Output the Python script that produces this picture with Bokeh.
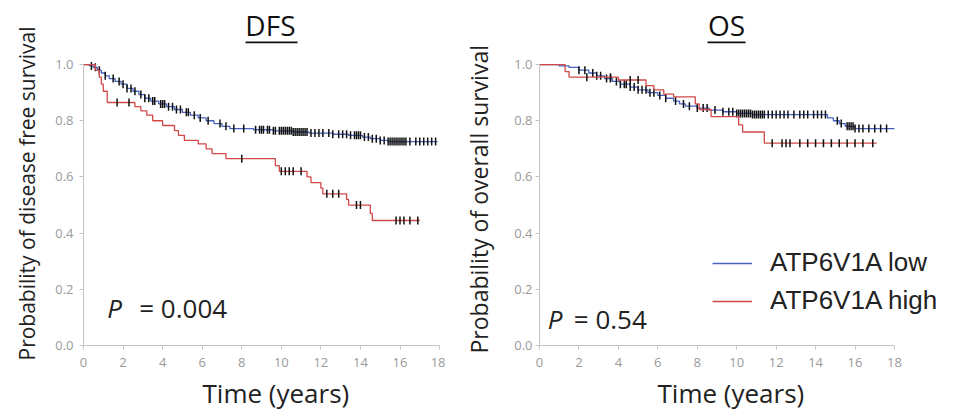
import numpy as np
from bokeh.plotting import figure
from bokeh.models import (Range1d, Legend, LegendItem, Label, FixedTicker, PrintfTickFormatter,
                          Title, BoxAnnotation)
from bokeh.layouts import row
from bokeh.embed import file_html
from bokeh.resources import INLINE

# ---------------- data ----------------
x_ticks = [0, 2, 4, 6, 8, 10, 12, 14, 16, 18]
y_ticks = [0.0, 0.2, 0.4, 0.6, 0.8, 1.0]

titles = ["DFS", "OS"]
y_labels = ["Probability of disease free survival", "Probability of overall survival"]
x_label = "Time (years)"
p_values = ["0.004", "0.54"]
series_names = ["ATP6V1A low", "ATP6V1A high"]

# DFS, ATP6V1A low (event times / survival after event)
dfs_low_t = [0.3, 0.5, 0.7, 0.9, 1.1, 1.3, 1.6, 1.9, 2.2, 2.5, 2.8, 3.1, 3.4, 3.8, 4.2, 4.6,
             5.0, 5.4, 5.8, 6.2, 6.6, 7.0, 7.4, 8.6, 9.6, 10.6, 11.4, 12.6, 13.4, 14.1, 14.5,
             15.0, 15.4]
dfs_low_s = [0.995, 0.99, 0.98, 0.97, 0.96, 0.95, 0.94, 0.93, 0.915, 0.905, 0.893, 0.88, 0.87,
             0.86, 0.85, 0.84, 0.83, 0.82, 0.81, 0.80, 0.79, 0.78, 0.772, 0.768, 0.764, 0.76,
             0.756, 0.752, 0.748, 0.742, 0.736, 0.73, 0.726]
dfs_low_end = 17.9
dfs_low_cens = [0.4, 0.6, 0.8, 1.1, 1.5, 1.8, 2.0, 2.2, 2.4, 2.6, 2.9, 3.1, 3.3, 3.5, 3.6, 3.9,
                4.0, 4.1, 4.3, 4.5, 4.7, 4.9, 5.2, 5.3, 5.6, 5.9, 6.3, 6.9, 7.2, 7.6, 8.1, 8.7,
                8.9, 9.0, 9.1, 9.3, 9.4, 9.6, 9.7, 9.9, 10.0, 10.1, 10.2, 10.3, 10.4, 10.5,
                10.6, 10.7, 10.8, 10.9, 11.0, 11.1, 11.2, 11.3, 11.5, 11.7, 11.9, 12.1, 12.4,
                12.6, 12.9, 13.1, 13.3, 13.5, 13.7, 13.8, 13.9, 14.0, 14.2, 14.4, 14.6, 14.8,
                15.0, 15.2, 15.4, 15.5, 15.6, 15.7, 15.8, 15.9, 16.0, 16.1, 16.2, 16.3, 16.5,
                16.8, 17.0, 17.2, 17.4, 17.6, 17.8]

# DFS, ATP6V1A high
dfs_high_t = [0.6, 0.8, 0.9, 1.0, 1.2, 2.6, 2.9, 3.2, 3.5, 4.0, 4.6, 4.8, 5.1, 5.8, 6.2, 6.5,
              7.2, 9.7, 9.9, 11.3, 11.5, 12.0, 12.1, 13.3, 13.4, 14.5, 14.6]
dfs_high_s = [0.98, 0.955, 0.93, 0.905, 0.865, 0.85, 0.835, 0.82, 0.80, 0.783, 0.765, 0.748,
              0.73, 0.718, 0.70, 0.683, 0.665, 0.64, 0.62, 0.60, 0.58, 0.56, 0.54, 0.52, 0.50,
              0.47, 0.445]
dfs_high_end = 17.0
dfs_high_cens = [1.7, 2.3, 8.0, 10.0, 10.2, 10.4, 10.6, 11.0, 12.3, 12.6, 12.9, 13.8, 14.0,
                 15.8, 16.0, 16.2, 16.5, 16.9]

# OS, ATP6V1A low
os_low_t = [1.0, 1.5, 2.0, 2.5, 2.9, 3.3, 3.7, 4.1, 4.6, 5.0, 5.5, 6.0, 6.4, 6.8, 7.1, 7.4,
            8.0, 8.6, 9.3, 10.0, 10.8, 14.6, 14.9, 15.2, 15.5, 16.0]
os_low_s = [0.995, 0.99, 0.98, 0.97, 0.96, 0.95, 0.94, 0.93, 0.92, 0.91, 0.90, 0.89, 0.88,
            0.87, 0.86, 0.852, 0.845, 0.838, 0.832, 0.826, 0.822, 0.81, 0.80, 0.79, 0.78, 0.772]
os_low_end = 18.0
os_low_cens = [2.0, 2.3, 2.7, 2.9, 3.1, 3.4, 3.6, 3.9, 4.1, 4.3, 4.4, 4.6, 4.8, 5.0, 5.2, 5.4,
               5.6, 5.8, 6.1, 6.4, 6.9, 7.3, 7.6, 8.0, 8.3, 8.5, 8.9, 9.3, 9.6, 9.8, 10.0, 10.1,
               10.2, 10.3, 10.4, 10.5, 10.6, 10.7, 10.8, 10.9, 11.0, 11.1, 11.2, 11.3, 11.4,
               11.6, 11.8, 12.0, 12.2, 12.4, 12.6, 12.9, 13.2, 13.4, 13.6, 13.9, 14.1, 14.3,
               14.5, 15.1, 15.3, 15.6, 15.7, 15.8, 15.9, 16.0, 16.2, 16.4, 16.7, 17.0, 17.3,
               17.6]

# OS, ATP6V1A high
os_high_t = [1.3, 1.5, 4.0, 5.4, 5.8, 6.3, 6.8, 7.9, 8.1, 8.7, 10.1, 10.3, 11.4]
os_high_s = [0.975, 0.955, 0.945, 0.925, 0.91, 0.895, 0.885, 0.86, 0.84, 0.815, 0.785, 0.76, 0.72]
os_high_end = 17.1
os_high_cens = [2.4, 3.6, 4.6, 5.0, 11.8, 12.3, 12.5, 12.7, 13.2, 13.6, 14.0, 14.4, 14.8,
                15.2, 15.6, 16.0, 16.4, 16.9]

# ---------------- style ----------------
BLUE = "#4662bd"
RED = "#d24848"
FONT = "Open Sans"
AXIS_GREY = "#c4c4c4"
TICK_GREY = "#9a9a9a"
TXT = "#222222"
H = 418


def km_curve(p, t, s, end, cens, color):
    xs = [0.0] + list(t) + [end]
    ys = [1.0] + list(s) + [s[-1]]
    r = p.step(x=xs, y=ys, mode="after", line_color=color, line_width=1.3)
    tt = np.array([0.0] + list(t))
    ss = np.array([1.0] + list(s))
    idx = np.searchsorted(tt, np.array(cens), side="right") - 1
    p.scatter(x=cens, y=ss[idx], marker="dash", angle=np.pi / 2, size=8,
              line_color="#111111", line_width=1.5)
    return r


def make_fig(width, min_left, min_right, x_end, ylab, ylab_size, ylab_offset, ylab_standoff,
             tick_standoff, xlab_offset):
    p = figure(width=width, height=H, x_range=Range1d(0, x_end), y_range=Range1d(0, 1.228),
               output_backend="svg", toolbar_location=None,
               min_border_left=min_left, min_border_right=min_right,
               min_border_top=0, min_border_bottom=73)
    p.outline_line_color = None
    p.xgrid.grid_line_color = None
    p.ygrid.grid_line_color = None
    p.xaxis.ticker = FixedTicker(ticks=x_ticks)
    p.yaxis.ticker = FixedTicker(ticks=y_ticks)
    p.yaxis.formatter = PrintfTickFormatter(format="%.1f")
    p.xaxis.bounds = (0, 18)
    p.yaxis.bounds = (0, 1)
    for ax in (p.xaxis, p.yaxis):
        ax.axis_line_color = AXIS_GREY
        ax.major_tick_line_color = AXIS_GREY
        ax.minor_tick_line_color = None
        ax.major_tick_out = 4
        ax.major_tick_in = 0
        ax.major_label_text_font = FONT
        ax.major_label_text_font_size = "13px"
        ax.major_label_text_color = TICK_GREY
    p.xaxis.major_label_standoff = 8
    p.yaxis.major_label_standoff = tick_standoff
    # y label (rotated title on the left)
    p.add_layout(Title(text=ylab, align="left", offset=ylab_offset, vertical_align="middle",
                       standoff=ylab_standoff, text_font=FONT, text_font_size=ylab_size,
                       text_font_style="normal", text_color=TXT), "left")
    # x label
    p.add_layout(Title(text=x_label, align="left", offset=xlab_offset, vertical_align="top",
                       standoff=10, text_font=FONT, text_font_size="26px",
                       text_font_style="normal", text_color=TXT), "below")
    return p


def add_title(p, txt, xc, x0, x1):
    p.add_layout(Label(x=xc, y=1.141, text=txt, text_font=FONT, text_font_size="28px",
                       text_color="#111111", text_align="center",
                       text_baseline="alphabetic"))
    p.add_layout(BoxAnnotation(left=x0, right=x1, bottom=1.0755, top=1.082,
                               fill_color="#111111", fill_alpha=1.0, line_color=None))


def add_p(p, x, y, dx, pv):
    p.add_layout(Label(x=x, y=y, text="P", text_font=FONT, text_font_size="26px",
                       text_font_style="italic", text_color=TXT,
                       text_baseline="alphabetic"))
    p.add_layout(Label(x=x, y=y, x_offset=dx, text="= " + pv, text_font=FONT,
                       text_font_size="26px", text_color=TXT,
                       text_baseline="alphabetic"))


# left panel: DFS
p1 = make_fig(445, 83, 0, 18.3, y_labels[0], "21px", -15, 21, 6, 119)
km_curve(p1, dfs_low_t, dfs_low_s, dfs_low_end, dfs_low_cens, BLUE)
km_curve(p1, dfs_high_t, dfs_high_s, dfs_high_end, dfs_high_cens, RED)
add_title(p1, titles[0], 9.45, 8.19, 10.82)
add_p(p1, 1.2, 0.132, 32, p_values[0])

# right panel: OS
p2 = make_fig(510, 94, 7, 20.74, y_labels[1], "23px", -8, 32, 3, 118)
r_low = km_curve(p2, os_low_t, os_low_s, os_low_end, os_low_cens, BLUE)
r_high = km_curve(p2, os_high_t, os_high_s, os_high_end, os_high_cens, RED)
add_title(p2, titles[1], 9.48, 8.52, 10.45)
add_p(p2, 0.42, 0.093, 26, p_values[1])

legend = Legend(items=[LegendItem(label=series_names[0], renderers=[r_low]),
                       LegendItem(label=series_names[1], renderers=[r_high])],
                location=(173, 29), orientation="vertical")
legend.label_text_font = "Liberation Sans"
legend.label_text_font_size = "26px"
legend.label_text_color = TXT
legend.glyph_width = 40
legend.glyph_height = 20
legend.label_standoff = 18
legend.label_height = 20
legend.spacing = 7
legend.padding = 0
legend.margin = 0
legend.border_line_color = None
legend.background_fill_alpha = 0
p2.add_layout(legend, "center")

layout = row(p1, p2)

open("out.html", "w").write(file_html(layout, INLINE))
